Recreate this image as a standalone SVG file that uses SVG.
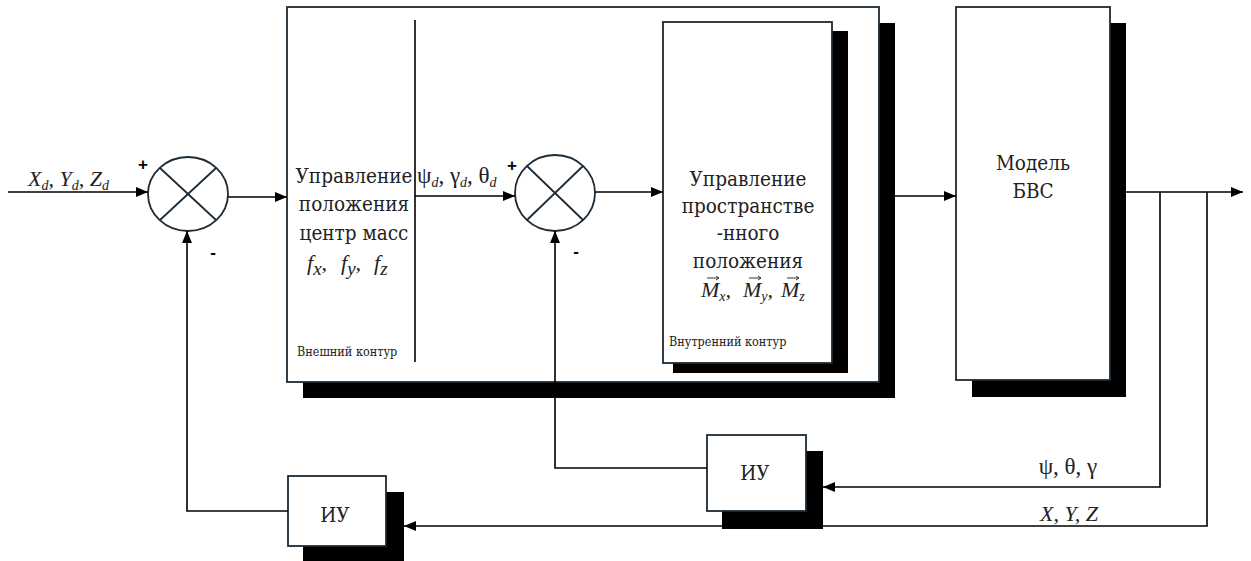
<svg xmlns="http://www.w3.org/2000/svg" width="1251" height="561" viewBox="0 0 1251 561">
<style>
.box{fill:#fff;stroke:#1c2b36;stroke-width:1.8}
.shadow{fill:#000}
.ln{fill:none;stroke:#000;stroke-width:1.6}
.t{font-family:"DejaVu Serif Condensed","DejaVu Serif",serif;font-size:20.5px;fill:#222}
.g{font-family:"Liberation Serif","Times New Roman",serif;font-size:23px;fill:#222}
.m{font-family:"Liberation Serif","Times New Roman",serif;font-style:italic;font-size:22px;fill:#222}
.s{font-size:14px}
.sm{font-family:"DejaVu Serif Condensed","DejaVu Serif",serif;font-size:12.5px;fill:#222}
.sign{font-family:"Liberation Sans",Arial,sans-serif;font-weight:bold;font-size:17px;fill:#000}
.vec{fill:none;stroke:#333;stroke-width:1}
</style>
<defs>
<marker id="ah" markerWidth="12" markerHeight="10" refX="12" refY="5" orient="auto" markerUnits="userSpaceOnUse">
<path d="M0,0 L12,5 L0,10 Z" fill="#000"/>
</marker>
</defs>

<g id="outer-loop">
<rect class="shadow" x="303" y="23" width="592" height="375"/>
<rect class="box" x="287" y="7" width="592" height="375"/>
<line x1="415" y1="20" x2="415" y2="362" stroke="#000" stroke-width="1.6"/>
<text class="t" x="354" y="183" text-anchor="middle">Управление</text>
<text class="t" x="354" y="211" text-anchor="middle">положения</text>
<text class="t" x="354" y="240" text-anchor="middle">центр масс</text>
<text class="m" y="270" font-size="29"><tspan x="307">f</tspan><tspan font-size="19" dy="5">x</tspan><tspan dy="-5">,</tspan><tspan x="341">f</tspan><tspan font-size="19" dy="5">y</tspan><tspan dy="-5">,</tspan><tspan x="374">f</tspan><tspan font-size="19" dy="5">z</tspan></text>
<text class="sm" x="297" y="356">Внешний контур</text>
</g>

<g id="inner-loop">
<rect class="shadow" x="673" y="31" width="175" height="342"/>
<rect class="box" x="663" y="22" width="169" height="341"/>
<text class="t" x="748" y="186" text-anchor="middle">Управление</text>
<text class="t" x="748" y="213" text-anchor="middle">пространстве</text>
<text class="t" x="748" y="240" text-anchor="middle">-нного</text>
<text class="t" x="748" y="268" text-anchor="middle">положения</text>
<text class="m" y="297" font-size="24"><tspan x="701">M</tspan><tspan class="s" dy="4">x</tspan><tspan dy="-4">,</tspan><tspan x="743">M</tspan><tspan class="s" dy="4">y</tspan><tspan dy="-4">,</tspan><tspan x="781">M</tspan><tspan class="s" dy="4">z</tspan></text>
<path class="vec" d="M707,278 H719 M716,276 L719,278 L716,280 M749,278 H761 M758,276 L761,278 L758,280 M787,278 H799 M796,276 L799,278 L796,280"/>
<text class="sm" x="669" y="346">Внутренний контур</text>
</g>

<g id="model">
<rect class="shadow" x="972" y="23" width="154" height="374"/>
<rect class="box" x="956" y="7" width="154" height="373"/>
<text class="t" x="1033" y="170" text-anchor="middle">Модель</text>
<text class="t" x="1033" y="198" text-anchor="middle">БВС</text>
</g>

<g id="sum1">
<ellipse cx="188" cy="194" rx="40" ry="37" fill="#fff" stroke="#1c2b36" stroke-width="1.8"/>
<line x1="160" y1="168" x2="216" y2="220" stroke="#1c2b36" stroke-width="1.8"/>
<line x1="216" y1="168" x2="160" y2="220" stroke="#1c2b36" stroke-width="1.8"/>
<text class="sign" x="143" y="170" text-anchor="middle">+</text>
<text class="sign" x="213" y="258" text-anchor="middle">-</text>
</g>

<g id="sum2">
<ellipse cx="555" cy="193" rx="40" ry="38" fill="#fff" stroke="#1c2b36" stroke-width="1.8"/>
<line x1="527" y1="166" x2="583" y2="220" stroke="#1c2b36" stroke-width="1.8"/>
<line x1="583" y1="166" x2="527" y2="220" stroke="#1c2b36" stroke-width="1.8"/>
<text class="sign" x="512" y="171" text-anchor="middle">+</text>
<text class="sign" x="576" y="257" text-anchor="middle">-</text>
</g>

<g id="iu1">
<rect class="shadow" x="303" y="492" width="101" height="69"/>
<rect class="box" x="288" y="476" width="98" height="70"/>
<text class="t" x="335" y="522" text-anchor="middle" font-size="22">ИУ</text>
</g>

<g id="iu2">
<rect class="shadow" x="722" y="451" width="101" height="78"/>
<rect class="box" x="707" y="435" width="99" height="76"/>
<text class="t" x="755" y="480" text-anchor="middle" font-size="22">ИУ</text>
</g>

<g id="connectors">
<line class="ln" x1="8" y1="192" x2="148" y2="192" marker-end="url(#ah)"/>
<line class="ln" x1="228" y1="197" x2="287" y2="197" marker-end="url(#ah)"/>
<line class="ln" x1="415" y1="196" x2="515" y2="196" marker-end="url(#ah)"/>
<line class="ln" x1="595" y1="192" x2="663" y2="192" marker-end="url(#ah)"/>
<line class="ln" x1="895" y1="196" x2="956" y2="196" marker-end="url(#ah)"/>
<line class="ln" x1="1126" y1="192" x2="1243" y2="192" marker-end="url(#ah)"/>
<polyline class="ln" points="1160,192 1160,487 823,487" marker-end="url(#ah)"/>
<polyline class="ln" points="1207,192 1207,526 404,526" marker-end="url(#ah)"/>
<polyline class="ln" points="707,468 555,468 555,231" marker-end="url(#ah)"/>
<polyline class="ln" points="288,511 187,511 187,231" marker-end="url(#ah)"/>
</g>

<g id="labels">
<text class="m" x="28" y="186" font-size="23">X<tspan class="s" dy="4">d</tspan><tspan dy="-4">, Y</tspan><tspan class="s" dy="4">d</tspan><tspan dy="-4">, Z</tspan><tspan class="s" dy="4">d</tspan></text>
<text class="g" x="417" y="183">ψ<tspan class="m s" dy="4">d</tspan><tspan dy="-4">, γ</tspan><tspan class="m s" dy="4">d</tspan><tspan dy="-4">, θ</tspan><tspan class="m s" dy="4">d</tspan></text>
<text class="g" x="1068" y="474" text-anchor="middle" font-size="22">ψ, θ, γ</text>
<text class="m" x="1069" y="521" text-anchor="middle" font-size="22">X, Y, Z</text>
</g>
</svg>
